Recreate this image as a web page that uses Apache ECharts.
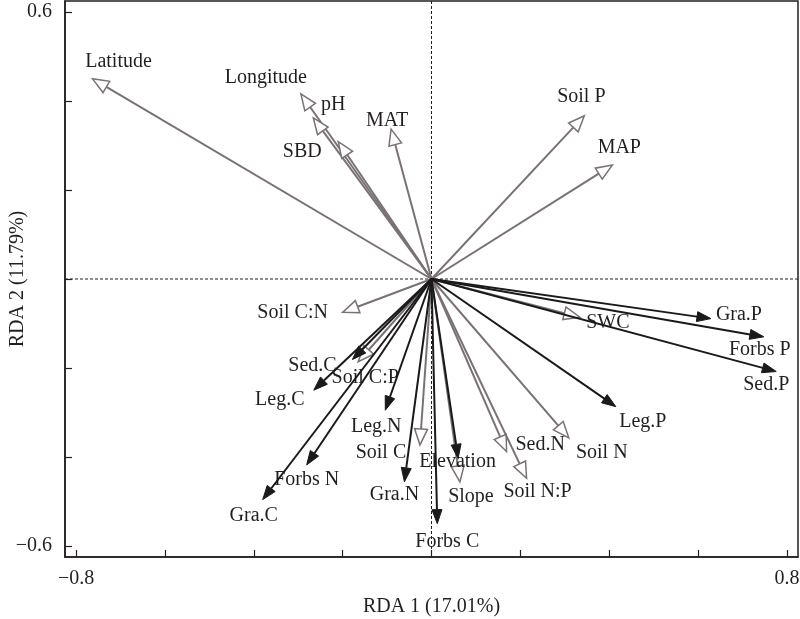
<!DOCTYPE html>
<html>
<head>
<meta charset="utf-8">
<script src="https://cdn.jsdelivr.net/npm/echarts@6/dist/echarts.min.js"></script>
<style>
html,body{margin:0;padding:0;background:#fff;}
#chart{width:800px;height:619px;}
</style>
</head>
<body>
<div id="chart"></div>
<script>
// ---- Data ----
const envNames = ['Latitude','Longitude','pH','SBD','MAT','Soil P','MAP','SWC','Soil C:N','Soil C:P','Soil C','Slope','Elevation','Soil N:P','Soil N'];
const envX = [-0.763,-0.294,-0.266,-0.210,-0.091,0.344,0.407,0.334,-0.200,-0.165,-0.026,0.064,0.169,0.214,0.309];
const envY = [0.450,0.416,0.362,0.309,0.337,0.367,0.256,-0.086,-0.075,-0.186,-0.373,-0.456,-0.388,-0.448,-0.357];

const spNames = ['Gra.P','Forbs P','Sed.P','Leg.P','Sed.N','Forbs C','Gra.N','Leg.N','Forbs N','Gra.C','Leg.C','Sed.C'];
const spX = [0.629,0.748,0.776,0.415,0.060,0.013,-0.061,-0.104,-0.281,-0.380,-0.265,-0.178];
const spY = [-0.089,-0.130,-0.208,-0.287,-0.403,-0.550,-0.456,-0.295,-0.418,-0.496,-0.250,-0.181];

const xTicks = [-0.8,-0.6,-0.4,-0.2,0,0.2,0.4,0.6,0.8];
const yTicks = [-0.6,-0.4,-0.2,0,0.2,0.4,0.6];
const xLabelTicks = [-0.8,0.8];
const yLabelTicks = [-0.6,0.6];
const xTitle = 'RDA 1 (17.01%)';
const yTitle = 'RDA 2 (11.79%)';

// ---- Layout (pixel offsets of labels from arrow tips) ----
const labelOffset = {
  'Latitude':[26,-17],'Longitude':[-35,-16],'pH':[20,-13],'SBD':[-36,10],'MAT':[-4,-8],
  'Soil P':[-3,-19],'MAP':[7,-17],'SWC':[28,5],'Soil C:N':[-50,0],'Soil C:P':[7,16],
  'Soil C':[-39,8],'Slope':[11,15],'Elevation':[-49,10],'Soil N:P':[11,13],'Soil N':[33,15],
  'Gra.P':[28,-4],'Forbs P':[-4,13],'Sed.P':[-10,13],'Leg.P':[27,15],'Sed.N':[82,-14],
  'Forbs C':[10,18],'Gra.N':[-10,13],'Leg.N':[-9,17],'Forbs N':[0,15],'Gra.C':[-9,16],
  'Leg.C':[-34,10],'Sed.C':[-40,6]
};

const FONT = 'Liberation Serif';
const GRAY = '#7a7272';
const BLACK = '#1a1a1a';
const TEXT = '#231f20';

function arrowRenderer(names, opts) {
  return function (params, api) {
    const name = names[params.dataIndex];
    const o = api.coord([0, 0]);
    const t = api.coord([api.value(0), api.value(1)]);
    const dx = t[0] - o[0], dy = t[1] - o[1];
    const L = Math.hypot(dx, dy);
    const ux = dx / L, uy = dy / L;
    const nx = -uy, ny = ux;
    const bx = t[0] - ux * opts.headLen, by = t[1] - uy * opts.headLen;
    const off = labelOffset[name] || [0, 0];
    return {
      type: 'group',
      children: [
        {type: 'line', shape: {x1: o[0], y1: o[1], x2: bx, y2: by},
          style: {stroke: opts.color, lineWidth: opts.lineWidth}},
        {type: 'polygon', shape: {points: [[t[0], t[1]], [bx + nx * opts.headW, by + ny * opts.headW], [bx - nx * opts.headW, by - ny * opts.headW]]},
          style: {fill: opts.fill, stroke: opts.color, lineWidth: opts.headStroke}},
        {type: 'text', style: {text: name, x: t[0] + off[0], y: t[1] + off[1], align: 'center', verticalAlign: 'middle',
          fontFamily: FONT, fontSize: 20, fill: TEXT}}
      ]
    };
  };
}

const chart = echarts.init(document.getElementById('chart'));
const minusFmt = v => String(v).replace('-', '\u2212');

chart.setOption({
  animation: false,
  backgroundColor: '#fff',
  grid: {left: 65, top: 1, width: 733, height: 556, containLabel: false, outerBoundsMode: 'none',
    show: true, borderColor: '#231f20', borderWidth: 1.5, backgroundColor: 'transparent'},
  graphic: [{
    type: 'text', x: 18, y: 279, rotation: Math.PI / 2,
    style: {text: yTitle, x: 0, y: 0, align: 'center', verticalAlign: 'middle', fontFamily: FONT, fontSize: 20, fill: TEXT}
  }],
  xAxis: {
    type: 'value', min: -0.825, max: 0.825,
    name: xTitle, nameLocation: 'middle', nameGap: 40,
    nameTextStyle: {fontFamily: FONT, fontSize: 20, color: TEXT},
    axisLine: {show: true, onZero: false, lineStyle: {color: '#231f20', width: 1.5}},
    axisTick: {show: true, inside: true, length: 7, customValues: xTicks, lineStyle: {color: '#231f20', width: 1.2}},
    axisLabel: {customValues: xLabelTicks, formatter: minusFmt, margin: 12, fontFamily: FONT, fontSize: 20, color: TEXT},
    splitLine: {show: false}
  },
  yAxis: {
    type: 'value', min: -0.625, max: 0.625,
    axisLine: {show: true, onZero: false, lineStyle: {color: '#231f20', width: 1.5}},
    axisTick: {show: true, inside: true, length: 7, customValues: yTicks, lineStyle: {color: '#231f20', width: 1.2}},
    axisLabel: {customValues: yLabelTicks, formatter: minusFmt, margin: 13, fontFamily: FONT, fontSize: 20, color: TEXT},
    splitLine: {show: false}
  },
  series: [
    {
      type: 'custom', silent: true, z: 1,
      data: [[0, 0]],
      renderItem: function (params, api) {
        const c = params.coordSys;
        const o = api.coord([0, 0]);
        const st = {stroke: '#231f20', lineWidth: 1, lineDash: [3, 2]};
        return {type: 'group', children: [
          {type: 'line', shape: {x1: c.x, y1: o[1], x2: c.x + c.width, y2: o[1]}, style: st},
          {type: 'line', shape: {x1: o[0], y1: c.y, x2: o[0], y2: c.y + c.height}, style: st}
        ]};
      }
    },
    {
      type: 'custom', silent: true, z: 2,
      data: envX.map((x, i) => [x, envY[i]]),
      renderItem: arrowRenderer(envNames, {color: GRAY, fill: '#ffffff', lineWidth: 2, headLen: 16, headW: 6.5, headStroke: 1.5})
    },
    {
      type: 'custom', silent: true, z: 3,
      data: spX.map((x, i) => [x, spY[i]]),
      renderItem: arrowRenderer(spNames, {color: BLACK, fill: BLACK, lineWidth: 2, headLen: 14, headW: 5, headStroke: 1})
    }
  ]
});
</script>
</body>
</html>
